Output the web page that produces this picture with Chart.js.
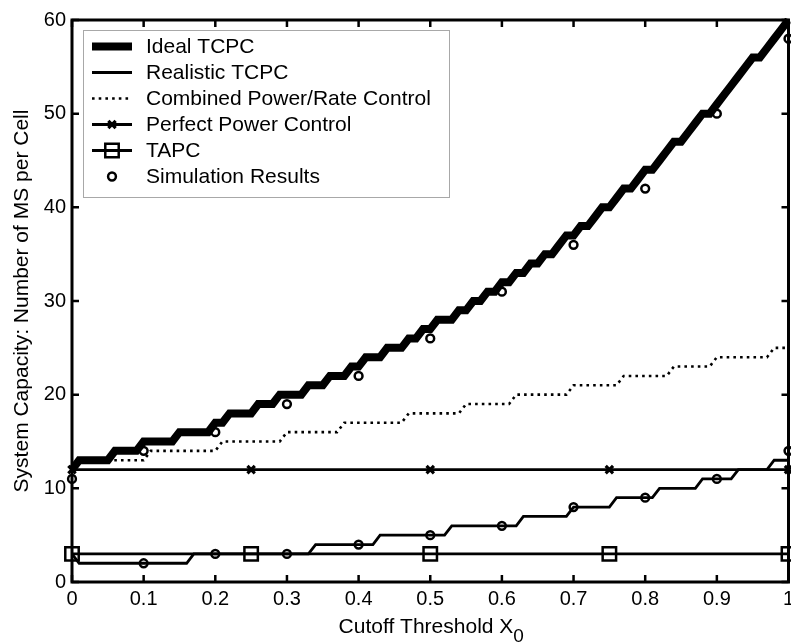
<!DOCTYPE html>
<html>
<head>
<meta charset="utf-8">
<script src="https://cdn.jsdelivr.net/npm/chart.js@4.4.0/dist/chart.umd.min.js"></script>
<style>
html,body{margin:0;padding:0;background:#fff;}
canvas{display:block;}
</style>
</head>
<body>
<canvas id="c" width="791" height="644"></canvas>
<script>
// ---- data ----
const xTicks = [0, 0.1, 0.2, 0.3, 0.4, 0.5, 0.6, 0.7, 0.8, 0.9, 1];
const yTicks = [0, 10, 20, 30, 40, 50, 60];

// Ideal TCPC: integer level and the first x sample (step 0.01) where it is reached
const idealLevels = [12,13,14,15,16,17,18,19,20,21,22,23,24,25,26,27,28,29,30,31,32,33,34,35,36,37,38,39,40,41,42,43,44,45,46,47,48,49,50,51,52,53,54,55,56,57,58,59,60];
const idealStartX = [0,0.01,0.06,0.10,0.15,0.20,0.22,0.26,0.29,0.33,0.36,0.39,0.41,0.44,0.47,0.49,0.51,0.54,0.56,0.58,0.60,0.62,0.64,0.66,0.68,0.69,0.71,0.73,0.74,0.76,0.77,0.79,0.80,0.82,0.83,0.84,0.86,0.87,0.88,0.90,0.91,0.92,0.93,0.94,0.95,0.97,0.98,0.99,1.00];

// Realistic TCPC
const realisticLevels = [3,2,3,4,5,6,7,8,9,10,11,12,13];
const realisticStartX = [0,0.01,0.17,0.34,0.43,0.53,0.63,0.70,0.76,0.82,0.88,0.93,0.98];

// Combined Power/Rate Control
const combinedLevels = [12,13,14,15,16,17,18,19,20,21,22,23,24,25];
const combinedStartX = [0,0.01,0.11,0.21,0.30,0.38,0.47,0.55,0.62,0.70,0.77,0.84,0.90,0.98];

// Perfect Power Control and TAPC (flat lines with markers)
const markerX = [0, 0.25, 0.5, 0.75, 1];
const ppcValues = [12, 12, 12, 12, 12];
const tapcValues = [3, 3, 3, 3, 3];

// Simulation results
const simX = [0, 0.1, 0.2, 0.3, 0.4, 0.5, 0.6, 0.7, 0.8, 0.9, 1];
const simUpper = [11, 14, 16, 19, 22, 26, 31, 36, 42, 50, 58];
const simLower = [null, 2, 3, 3, 4, 5, 6, 8, 9, 11, 14];

const legendLabels = ['Ideal TCPC', 'Realistic TCPC', 'Combined Power/Rate Control', 'Perfect Power Control', 'TAPC', 'Simulation Results'];
const xTitle = 'Cutoff Threshold X';
const xTitleSub = '0';
const yTitle = 'System Capacity: Number of MS per Cell';

// ---- build point lists ----
const SAMPLE = 0.01;
const X_END = xTicks[xTicks.length - 1];
function stepPoints(levels, starts) {
  const pts = [];
  for (let i = 0; i < levels.length; i++) {
    const x0 = starts[i];
    const x1 = i + 1 < starts.length ? +(starts[i + 1] - SAMPLE).toFixed(2) : X_END;
    pts.push({x: x0, y: levels[i]});
    if (x1 > x0) pts.push({x: x1, y: levels[i]});
  }
  return pts;
}
const zip = (xs, ys) => xs.map((x, i) => ({x, y: ys[i]})).filter(p => p.y !== null);

const FONT = "'Liberation Sans', Arial, sans-serif";
const BLACK = '#000';

const dsSimUpper = {label: 'sim1', data: zip(simX, simUpper), showLine: false, pointStyle: 'circle', pointRadius: 3.9, pointBorderWidth: 2.5, pointBorderColor: BLACK, pointBackgroundColor: 'rgba(0,0,0,0)', clip: false};
const dsSimLower = {label: 'sim2', data: zip(simX, simLower), showLine: false, pointStyle: 'circle', pointRadius: 3.9, pointBorderWidth: 2.5, pointBorderColor: BLACK, pointBackgroundColor: 'rgba(0,0,0,0)', clip: false};
const dsPPC = {label: legendLabels[3], data: zip(markerX, ppcValues), borderColor: BLACK, borderWidth: 2.8, pointStyle: 'crossRot', pointRadius: 5.2, pointBorderWidth: 3.2, pointBorderColor: BLACK, clip: false};
const dsTAPC = {label: legendLabels[4], data: zip(markerX, tapcValues), borderColor: BLACK, borderWidth: 2.8, pointStyle: 'rect', pointRadius: 9.5, pointBorderWidth: 2.5, pointBorderColor: BLACK, pointBackgroundColor: 'rgba(0,0,0,0)', clip: false};
const dsReal = {label: legendLabels[1], data: stepPoints(realisticLevels, realisticStartX), borderColor: BLACK, borderWidth: 2.8, pointRadius: 0, clip: false};
const dsComb = {label: legendLabels[2], data: stepPoints(combinedLevels, combinedStartX), borderColor: BLACK, borderWidth: 2.6, borderDash: [2.6, 4.1], pointRadius: 0, clip: false};
const dsIdeal = {label: legendLabels[0], data: stepPoints(idealLevels, idealStartX), borderColor: BLACK, borderWidth: 8, pointRadius: 0, clip: 2};

const legendItems = [
  {text: legendLabels[0], ds: dsIdeal, line: true, marker: false},
  {text: legendLabels[1], ds: dsReal, line: true, marker: false},
  {text: legendLabels[2], ds: dsComb, line: true, marker: false},
  {text: legendLabels[3], ds: dsPPC, line: true, marker: true},
  {text: legendLabels[4], ds: dsTAPC, line: true, marker: true},
  {text: legendLabels[5], ds: dsSimUpper, line: false, marker: true}
];

const framePlugin = {
  id: 'frame',
  afterDraw(chart) {
    const ctx = chart.ctx;
    const {left, right, top, bottom} = chart.chartArea;
    const xs = chart.scales.x, ys = chart.scales.y;
    ctx.save();
    ctx.strokeStyle = BLACK;
    ctx.lineWidth = 3;
    ctx.strokeRect(left, top, right - left, bottom - top);
    ctx.lineWidth = 2.5;
    const TL = 7;
    ctx.beginPath();
    xTicks.forEach(v => {
      const px = xs.getPixelForValue(v);
      ctx.moveTo(px, bottom); ctx.lineTo(px, bottom - TL);
      ctx.moveTo(px, top); ctx.lineTo(px, top + TL);
    });
    yTicks.forEach(v => {
      const py = ys.getPixelForValue(v);
      ctx.moveTo(left, py); ctx.lineTo(left + TL, py);
      ctx.moveTo(right, py); ctx.lineTo(right - TL, py);
    });
    ctx.stroke();

    // legend
    const bx = 83, by = 30, bw = 366, bh = 167;
    ctx.fillStyle = '#fff';
    ctx.fillRect(bx, by, bw, bh);
    ctx.strokeStyle = '#a8a8a8';
    ctx.lineWidth = 1;
    ctx.strokeRect(bx + 0.5, by + 0.5, bw, bh);
    ctx.font = '21px ' + FONT;
    ctx.textBaseline = 'middle';
    ctx.textAlign = 'left';
    legendItems.forEach((it, i) => {
      const y = 46.5 + i * 26;
      const ds = it.ds;
      if (it.line) {
        ctx.save();
        ctx.strokeStyle = BLACK;
        ctx.lineWidth = ds.borderWidth;
        ctx.setLineDash(ds.borderDash || []);
        ctx.beginPath();
        ctx.moveTo(92, y); ctx.lineTo(132, y);
        ctx.stroke();
        ctx.restore();
      }
      if (it.marker) {
        ctx.save();
        ctx.strokeStyle = BLACK;
        ctx.fillStyle = 'rgba(0,0,0,0)';
        ctx.lineWidth = ds.pointBorderWidth;
        Chart.helpers.drawPoint(ctx, {pointStyle: ds.pointStyle, radius: ds.pointRadius, borderWidth: ds.pointBorderWidth, rotation: 0}, 112, y);
        ctx.restore();
      }
      ctx.fillStyle = BLACK;
      ctx.fillText(it.text, 146, y + 1);
    });

    // axis titles
    ctx.fillStyle = BLACK;
    ctx.textBaseline = 'alphabetic';
    ctx.font = '21px ' + FONT;
    const w1 = ctx.measureText(xTitle).width;
    ctx.font = '19px ' + FONT;
    const w2 = ctx.measureText(xTitleSub).width;
    const cx = (left + right) / 2 + 1;
    const sx = cx - (w1 + w2) / 2;
    ctx.font = '21px ' + FONT;
    ctx.textAlign = 'left';
    ctx.fillText(xTitle, sx, 633);
    ctx.font = '19px ' + FONT;
    ctx.fillText(xTitleSub, sx + w1, 642);

    ctx.save();
    ctx.translate(28, (top + bottom) / 2);
    ctx.rotate(-Math.PI / 2);
    ctx.font = '21px ' + FONT;
    ctx.textAlign = 'center';
    ctx.fillText(yTitle, 0, 0);
    ctx.restore();
    ctx.restore();
  }
};

new Chart(document.getElementById('c'), {
  type: 'line',
  data: {datasets: [dsSimUpper, dsSimLower, dsPPC, dsTAPC, dsReal, dsComb, dsIdeal]},
  options: {
    responsive: false,
    animation: false,
    devicePixelRatio: 1,
    layout: {autoPadding: false, padding: {left: 0, top: 20, right: 2.5, bottom: 0}},
    elements: {line: {tension: 0, fill: false}},
    plugins: {legend: {display: false}, tooltip: {enabled: false}},
    scales: {
      x: {
        type: 'linear', min: 0, max: 1,
        afterBuildTicks: s => { s.ticks = xTicks.map(v => ({value: v})); },
        afterFit: s => { s.height = 62; s.paddingLeft = 0; s.paddingRight = 0; },
        grid: {display: false, drawTicks: false},
        border: {display: false},
        ticks: {color: BLACK, padding: 5, maxRotation: 0, font: {family: FONT, size: 20}, callback: v => String(+(+v).toFixed(1))}
      },
      y: {
        type: 'linear', min: 0, max: 60,
        afterBuildTicks: s => { s.ticks = yTicks.map(v => ({value: v})); },
        afterFit: s => { s.width = 72; },
        grid: {display: false, drawTicks: false},
        border: {display: false},
        ticks: {color: BLACK, padding: 6, font: {family: FONT, size: 20}, callback: v => String(v)}
      }
    }
  },
  plugins: [framePlugin]
});
</script>
</body>
</html>
